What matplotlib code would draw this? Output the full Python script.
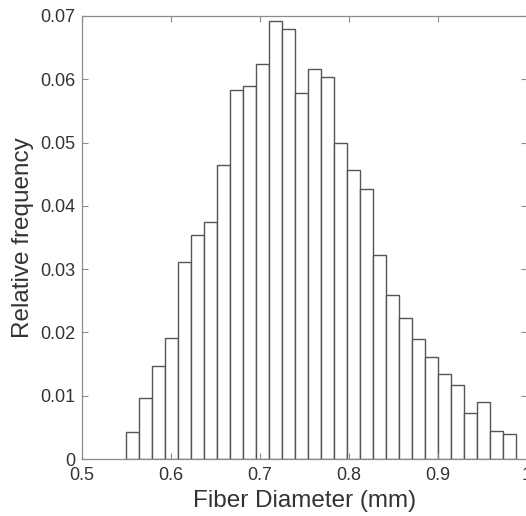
import numpy as np
import matplotlib.pyplot as plt

plt.rcParams['font.family'] = ['Liberation Sans', 'DejaVu Sans']

# histogram of fiber diameters, 30 bins between min and max
bin_lo = 0.549
bin_hi = 0.9875
n_bins = 30
rel_freq = [0.0042, 0.0096, 0.0147, 0.0191, 0.0311, 0.0354, 0.0374, 0.0464,
            0.0583, 0.0590, 0.0624, 0.0692, 0.0679, 0.0578, 0.0616, 0.0604,
            0.0500, 0.0456, 0.0426, 0.0322, 0.0259, 0.0223, 0.0189, 0.0161,
            0.0135, 0.0117, 0.0073, 0.0090, 0.0044, 0.0039]

x_ticks = [0.5, 0.6, 0.7, 0.8, 0.9, 1.0]
x_labels = ['0.5', '0.6', '0.7', '0.8', '0.9', '1']
y_ticks = [0, 0.01, 0.02, 0.03, 0.04, 0.05, 0.06, 0.07]
y_labels = ['0', '0.01', '0.02', '0.03', '0.04', '0.05', '0.06', '0.07']

edges = np.linspace(bin_lo, bin_hi, n_bins + 1)

fig = plt.figure(figsize=(5.26, 5.16), dpi=100)
ax = fig.add_axes([82/526, 1 - 459/516, 445/526, 443/516])

ax.bar(edges[:-1], rel_freq, width=np.diff(edges), align='edge',
       facecolor='white', edgecolor='#555555', linewidth=1.0)

ax.set_xlim(0.5, 1.0)
ax.set_ylim(0, 0.07)
ax.set_xticks(x_ticks)
ax.set_xticklabels(x_labels)
ax.set_yticks(y_ticks)
ax.set_yticklabels(y_labels)

for s in ax.spines.values():
    s.set_color('#8c8c8c')
    s.set_linewidth(0.9)
ax.tick_params(direction='in', length=4, width=0.8, color='#8c8c8c',
               top=True, right=True, labelsize=13, labelcolor='#333333', pad=5)
ax.tick_params(axis='x', pad=6)

ax.set_xlabel('Fiber Diameter (mm)', fontsize=17.5, color='#333333', labelpad=4)
ax.set_ylabel('Relative frequency', fontsize=17.5, color='#333333', labelpad=4)

fig.savefig('out.png', dpi=100)
